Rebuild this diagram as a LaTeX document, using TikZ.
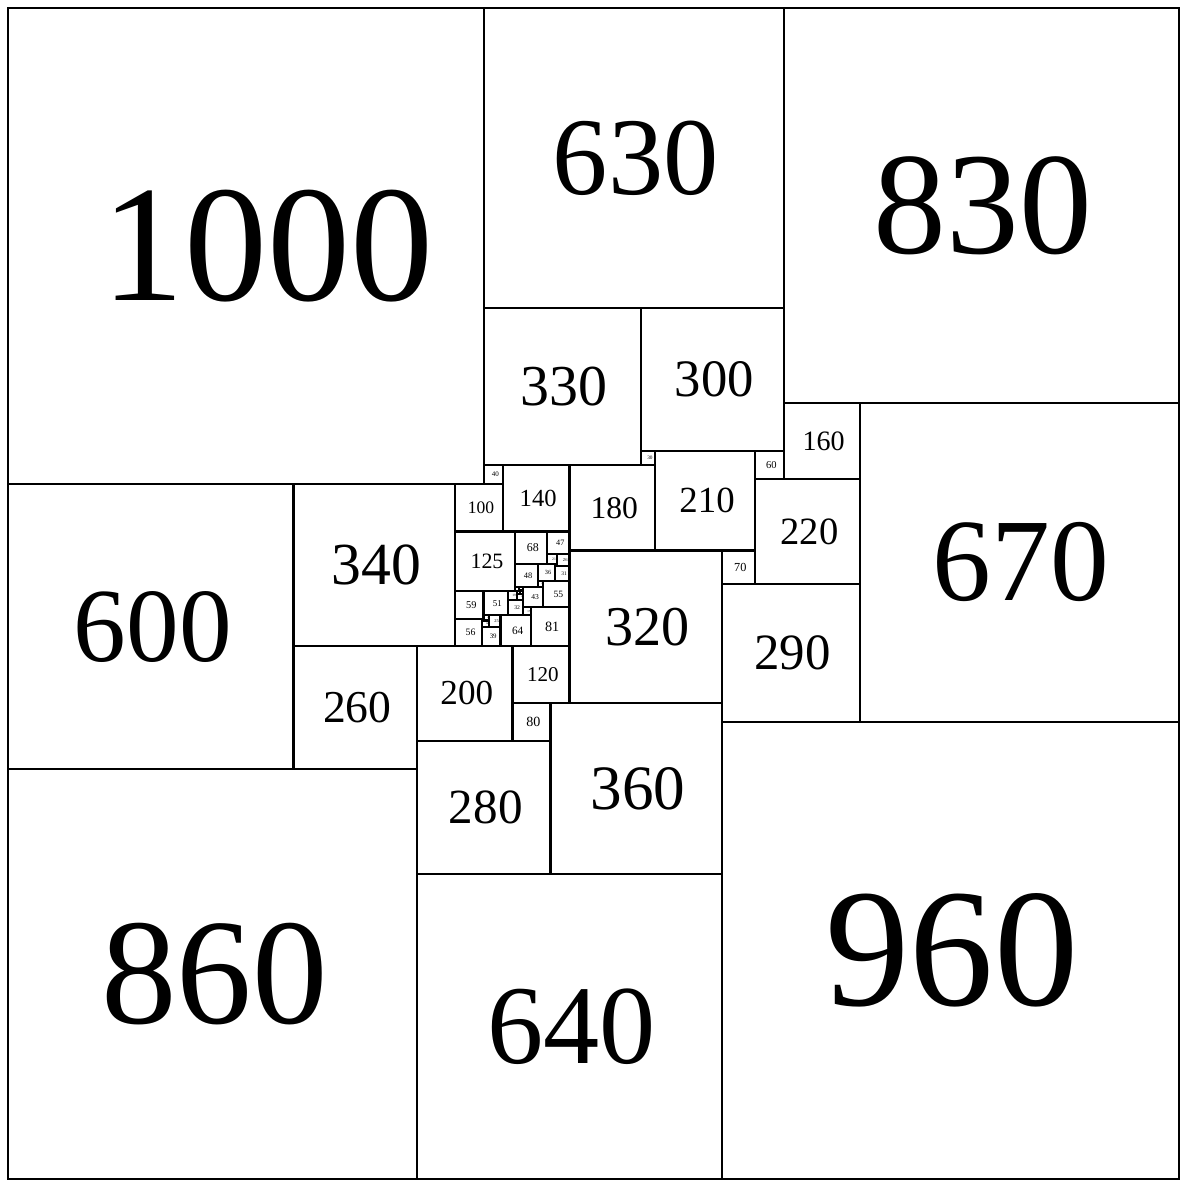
\documentclass[tikz,border=0pt]{standalone}
\usepackage{fontspec}
\setmainfont{Liberation Serif}
\usepackage{tikz}

\begin{document}
\begin{tikzpicture}[
  x=0.005cm, y=-0.005cm,
  sqbox/.style={draw=black, line width=0.65pt},
  sqlbl/.style={inner sep=0pt, anchor=center},
]
\useasboundingbox (-17,-17) rectangle (2463,2463);
\foreach \x/\y/\s in {0/0/1000, 1000/0/630, 1630/0/830, 1000/630/330, 1330/630/300,
  1330/930/30, 1570/930/60, 1630/830/160, 1360/930/210, 1000/960/40, 1040/960/140,
  1180/960/180, 940/1000/100, 1570/990/220, 1790/830/670, 0/1000/600, 600/1000/340,
  940/1100/125, 1065/1100/68, 1133/1100/47, 1133/1147/21, 1154/1147/26, 1149/1168/5,
  1149/1173/31, 1113/1168/36, 1065/1168/48, 1113/1204/12, 1125/1204/55, 1082/1216/43,
  1099/1259/81, 1082/1259/17, 1035/1276/64, 1050/1244/32, 999/1225/51, 1050/1225/19,
  1069/1231/13, 1065/1216/9, 1074/1216/8, 1069/1225/6, 1075/1224/7, 940/1225/59,
  940/1284/56, 996/1301/39, 1010/1276/25, 999/1276/11, 996/1287/14, 996/1284/3,
  1500/1140/70, 1180/1140/320, 1500/1210/290, 600/1340/260, 860/1340/200,
  1060/1340/120, 1060/1460/80, 1140/1460/360, 1500/1500/960, 860/1540/280,
  0/1600/860, 860/1820/640}
{
  \draw[sqbox] (\x,\y) rectangle ++(\s,\s);
  \ifnum\s>10 \ifnum\s<1000
    \pgfmathsetmacro\fs{0.0525*\s}
    \node[sqlbl, font=\fontsize{\fs}{\fs}\selectfont] (sq\s) at (\x+\s/2+4,\y+\s/2) {\s};
  \fi\fi
}
% the big one sits a bit to the right
\node[sqlbl, font=\fontsize{49.7}{49.7}\selectfont] (sq1000) at (546,500) {1000};
\end{tikzpicture}
\end{document}
